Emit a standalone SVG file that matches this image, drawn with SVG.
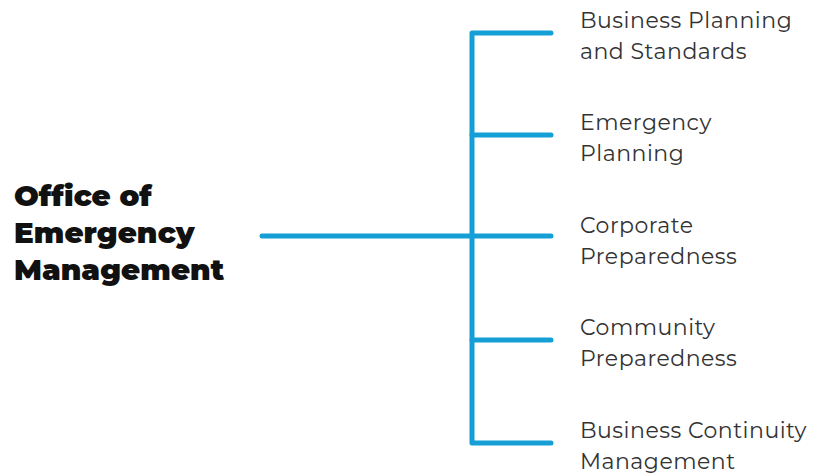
<svg xmlns="http://www.w3.org/2000/svg" width="819" height="476" viewBox="0 0 819 476">
  <style>
    .link { fill: none; stroke: #169fd6; stroke-width: 5; stroke-linecap: round; stroke-linejoin: round; }
    .title { font-family: "Montserrat", "Lato", "Liberation Sans", sans-serif; font-weight: 900; font-size: 29.3px; fill: #111; }
    .unit { font-family: "Montserrat", "Lato", "Liberation Sans", sans-serif; font-weight: 400; font-size: 22px; fill: #333; letter-spacing: 0.5px; }
  </style>
  <rect width="819" height="476" fill="#fff"/>

  <!-- connectors -->
  <g id="connectors">
    <path class="link" d="M262 236 H471"/>
    <path class="link" d="M551 33 H472 V443 H551"/>
    <path class="link" d="M472 135 H551"/>
    <path class="link" d="M472 236 H551"/>
    <path class="link" d="M472 340 H551"/>
  </g>

  <g id="office">
    <text class="title" x="14" y="206">Office of</text>
    <text class="title" x="14" y="243">Emergency</text>
    <text class="title" x="14" y="280">Management</text>
  </g>

  <g id="business-planning">
    <text class="unit" x="580" y="28">Business Planning</text>
    <text class="unit" x="580" y="59">and Standards</text>
  </g>
  <g id="emergency-planning">
    <text class="unit" x="580" y="130">Emergency</text>
    <text class="unit" x="580" y="161">Planning</text>
  </g>
  <g id="corporate-preparedness">
    <text class="unit" x="580" y="233">Corporate</text>
    <text class="unit" x="580" y="264">Preparedness</text>
  </g>
  <g id="community-preparedness">
    <text class="unit" x="580" y="335">Community</text>
    <text class="unit" x="580" y="366">Preparedness</text>
  </g>
  <g id="business-continuity">
    <text class="unit" x="580" y="438">Business Continuity</text>
    <text class="unit" x="580" y="469">Management</text>
  </g>
</svg>
